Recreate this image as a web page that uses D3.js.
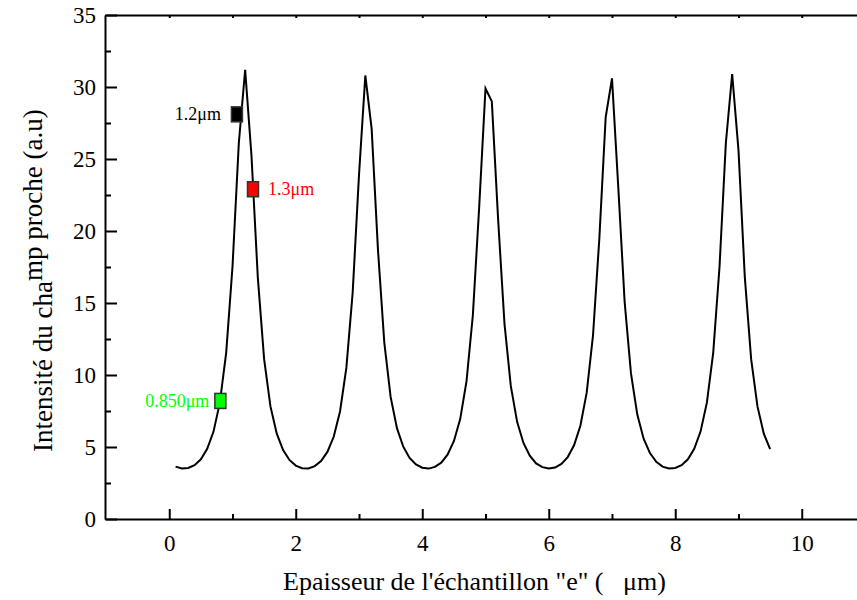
<!DOCTYPE html>
<html>
<head>
<meta charset="utf-8">
<script src="https://cdn.jsdelivr.net/npm/d3@7"></script>
<style>
  html, body { margin: 0; padding: 0; background: #fff; }
  svg, svg text { font-family: "Liberation Serif", "Times New Roman", Times, serif !important; }
</style>
</head>
<body>
<svg id="chart" width="857" height="600"></svg>
<script>
// ---- data ----
const thickness = [0.1,0.2,0.3,0.4,0.5,0.6,0.7,0.8,0.9,1.0,1.1,1.2,1.3,1.4,1.5,1.6,1.7,1.8,1.9,2.0,
  2.1,2.2,2.3,2.4,2.5,2.6,2.7,2.8,2.9,3.0,3.1,3.2,3.3,3.4,3.5,3.6,3.7,3.8,3.9,4.0,
  4.1,4.2,4.3,4.4,4.5,4.6,4.7,4.8,4.9,5.0,5.1,5.2,5.3,5.4,5.5,5.6,5.7,5.8,5.9,6.0,
  6.1,6.2,6.3,6.4,6.5,6.6,6.7,6.8,6.9,7.0,7.1,7.2,7.3,7.4,7.5,7.6,7.7,7.8,7.9,8.0,
  8.1,8.2,8.3,8.4,8.5,8.6,8.7,8.8,8.9,9.0,9.1,9.2,9.3,9.4,9.5];
const intensity = [3.64,3.51,3.54,3.74,4.15,4.88,6.07,8.08,11.54,17.52,26.11,31.2,25.23,16.78,11.10,7.82,5.93,4.79,4.10,3.71,
  3.53,3.51,3.67,4.02,4.66,5.71,7.47,10.49,15.73,23.89,30.8,27.1,18.69,12.25,8.48,6.31,5.02,4.24,3.79,3.56,
  3.50,3.62,3.91,4.47,5.40,6.94,9.57,14.15,21.65,29.9,29.0,20.77,13.57,9.24,6.75,5.28,4.40,3.86,3.60,3.50,
  3.57,3.82,4.30,5.12,6.48,8.77,12.76,19.50,27.9,30.6,22.99,15.07,10.11,7.25,5.58,4.58,3.97,3.64,3.51,3.54,
  3.74,4.15,4.88,6.07,8.08,11.54,17.52,26.11,30.9,25.6,16.78,11.10,7.82,5.93,4.86];

const markerX = [1.07, 1.324, 0.808];
const markerY = [28.1, 22.9, 8.2];
const markerLabels = ["1.2\u03bcm", "1.3\u03bcm", "0.850\u03bcm"];
const markerColors = ["#000000", "#ff0000", "#00ff00"];

const xMajorTicks = [0, 2, 4, 6, 8, 10];
const xMinorTicks = [1, 3, 5, 7, 9];
const xTopTicks = [0, 1, 2, 3, 4, 5, 6, 7, 8, 9, 10];
const yMajorTicks = [0, 5, 10, 15, 20, 25, 30, 35];
const yMinorTicks = [2.5, 7.5, 12.5, 17.5, 22.5, 27.5, 32.5];

const xTitle = "Epaisseur de l'\u00e9chantillon \"e\" (   \u03bcm)";
const yTitleMain = "Intensit\u00e9 du cha";
const yTitleSup = "mp proche (a.u)";

// ---- layout ----
const FONT = "'Liberation Serif', 'Times New Roman', Times, serif";
const svg = d3.select("#chart").attr("font-family", FONT);
const pLeft = 105, pRight = 865, pTop = 15, pBottom = 519;
const x = d3.scaleLinear().domain([-1, 11]).range([pLeft + 1, pRight]);
const y = d3.scaleLinear().domain([0, 35]).range([pBottom, pTop]);

function styleAxis(g) {
  g.attr("font-family", FONT).attr("font-size", 23);
  g.selectAll("path.domain").attr("stroke", "#000").attr("stroke-width", 2);
  g.selectAll(".tick line").attr("stroke", "#000").attr("stroke-width", 2);
  g.selectAll(".tick text").attr("fill", "#000")
    .attr("font-family", FONT)
    .style("font-size", "23px");
}

// bottom axis (major with labels)
svg.append("g").attr("transform", `translate(0,${pBottom})`)
  .call(d3.axisBottom(x).tickValues(xMajorTicks).tickSize(-10).tickSizeOuter(0).tickPadding(10)
    .tickFormat(d3.format("d")))
  .call(styleAxis)
  .call(g => g.selectAll(".tick text").attr("dy", "0.95em"));
// bottom minor
svg.append("g").attr("transform", `translate(0,${pBottom})`)
  .call(d3.axisBottom(x).tickValues(xMinorTicks).tickSize(-5).tickSizeOuter(0).tickFormat(""))
  .call(styleAxis)
  .call(g => g.select("path.domain").remove());
// top axis
svg.append("g").attr("transform", `translate(0,${pTop})`)
  .call(d3.axisTop(x).tickValues(xTopTicks).tickSize(-3).tickSizeOuter(0).tickFormat(""))
  .call(styleAxis);

// left axis
svg.append("g").attr("transform", `translate(${pLeft},0)`)
  .call(d3.axisLeft(y).tickValues(yMajorTicks).tickSize(-12).tickSizeOuter(0).tickPadding(9)
    .tickFormat(d3.format("d")))
  .call(styleAxis);
svg.append("g").attr("transform", `translate(${pLeft},0)`)
  .call(d3.axisLeft(y).tickValues(yMinorTicks).tickSize(-6).tickSizeOuter(0).tickFormat(""))
  .call(styleAxis)
  .call(g => g.select("path.domain").remove());

// curve
const pts = thickness.map((t, i) => [t, intensity[i]]);
svg.append("path")
  .datum(pts)
  .attr("fill", "none")
  .attr("stroke", "#000")
  .attr("stroke-width", 2)
  .attr("stroke-linejoin", "miter")
  .attr("d", d3.line().x(d => x(d[0])).y(d => y(d[1])));

// markers
const mW = 11, mH = 15;
const labelDx = [-16, 15, -11];
const labelAnchor = ["end", "start", "end"];
markerX.forEach((mx, i) => {
  const cx = x(mx), cy = y(markerY[i]);
  svg.append("rect")
    .attr("x", cx - mW / 2).attr("y", cy - mH / 2)
    .attr("width", mW).attr("height", mH)
    .attr("fill", markerColors[i])
    .attr("stroke", "#333").attr("stroke-width", 1.5);
  svg.append("text")
    .attr("x", cx + labelDx[i]).attr("y", cy + 6)
    .attr("text-anchor", labelAnchor[i])
    .attr("fill", markerColors[i])
    .attr("font-family", FONT)
    .style("font-size", "18px")
    .text(markerLabels[i]);
});

// axis titles
svg.append("text")
  .attr("x", 283).attr("y", 590)
  .attr("text-anchor", "start")
  .attr("fill", "#000")
  .attr("font-family", FONT)
  .style("font-size", "26px")
  .style("white-space", "pre")
  .attr("xml:space", "preserve")
  .text(xTitle);

const yt = svg.append("text")
  .attr("transform", "translate(52,452) rotate(-90)")
  .attr("text-anchor", "start")
  .attr("fill", "#000")
  .attr("font-family", FONT)
  .style("font-size", "27px");
yt.append("tspan").text(yTitleMain);
yt.append("tspan").attr("dy", -10).text(yTitleSup);
</script>
</body>
</html>
